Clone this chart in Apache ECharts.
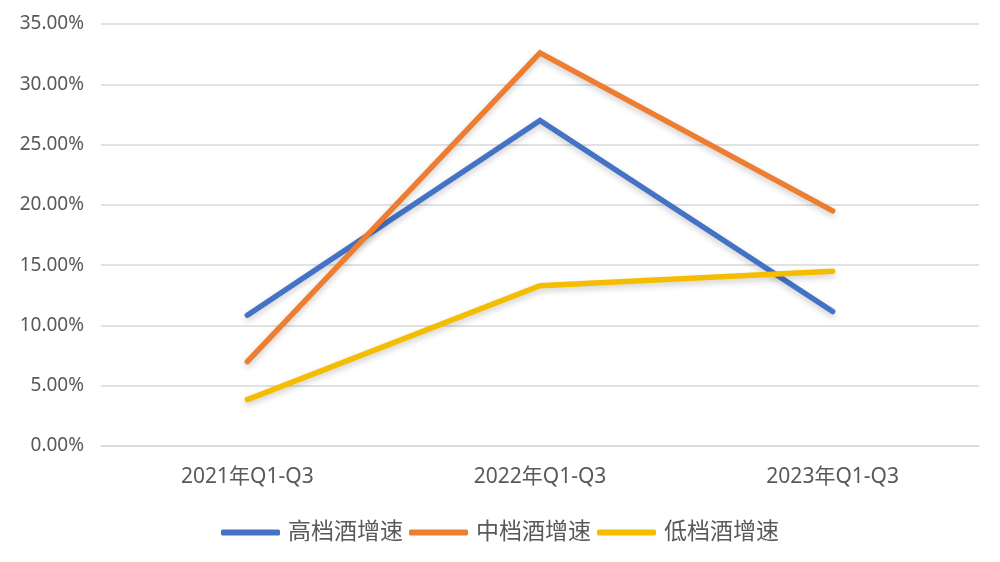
<!DOCTYPE html>
<html><head><meta charset="utf-8">
<script src="https://cdn.jsdelivr.net/npm/echarts@6/dist/echarts.min.js"></script>
<style>html,body{margin:0;padding:0;background:#fff}#c{width:1000px;height:562px}</style>
</head><body><div id="c"></div>
<script>
const categories = ['2021年Q1-Q3', '2022年Q1-Q3', '2023年Q1-Q3'];
const seriesNames = ['高档酒增速', '中档酒增速', '低档酒增速'];
const highEnd = [10.85, 27.0, 11.15];
const midEnd = [7.0, 32.6, 19.5];
const lowEnd = [3.85, 13.3, 14.5];
const colors = ['#4472C4', '#ED7D31', '#F5BD00'];
const font = '"Noto Sans", "Noto Sans CJK SC", sans-serif';

const chart = echarts.init(document.getElementById('c'));
const mk = (name, data, color) => ({
  name, type: 'line', data, showSymbol: false, symbol: 'none',
  lineStyle: { width: 5.5, color, cap: 'round', join: 'miter',
    shadowBlur: 6, shadowColor: 'rgba(0,0,0,0.2)', shadowOffsetY: 3 },
  itemStyle: { color }
});
chart.setOption({
  animation: false,
  grid: { left: 101, right: 21, top: 24, bottom: 116 },
  legend: {
    bottom: 13, left: 'center',
    itemWidth: 59, itemHeight: 6, itemGap: 6,
    icon: 'roundRect',
    textStyle: { color: '#595959', fontSize: 23, fontFamily: font, padding: [0, 0, 0, 3] },
    data: seriesNames
  },
  xAxis: {
    type: 'category', data: categories, boundaryGap: true,
    axisLine: { lineStyle: { color: '#D9D9D9', width: 1.5 } },
    axisTick: { show: false },
    axisLabel: { color: '#595959', fontSize: 21, fontFamily: font, margin: 21 }
  },
  yAxis: {
    type: 'value', min: 0, max: 35, interval: 5,
    axisLine: { show: false }, axisTick: { show: false },
    splitLine: { lineStyle: { color: '#D9D9D9', width: 1.5 } },
    axisLabel: { color: '#595959', fontSize: 19, fontFamily: font, margin: 17,
      formatter: v => v.toFixed(2) + '%' }
  },
  series: [mk(seriesNames[0], highEnd, colors[0]), mk(seriesNames[1], midEnd, colors[1]), mk(seriesNames[2], lowEnd, colors[2])]
});
</script></body></html>
